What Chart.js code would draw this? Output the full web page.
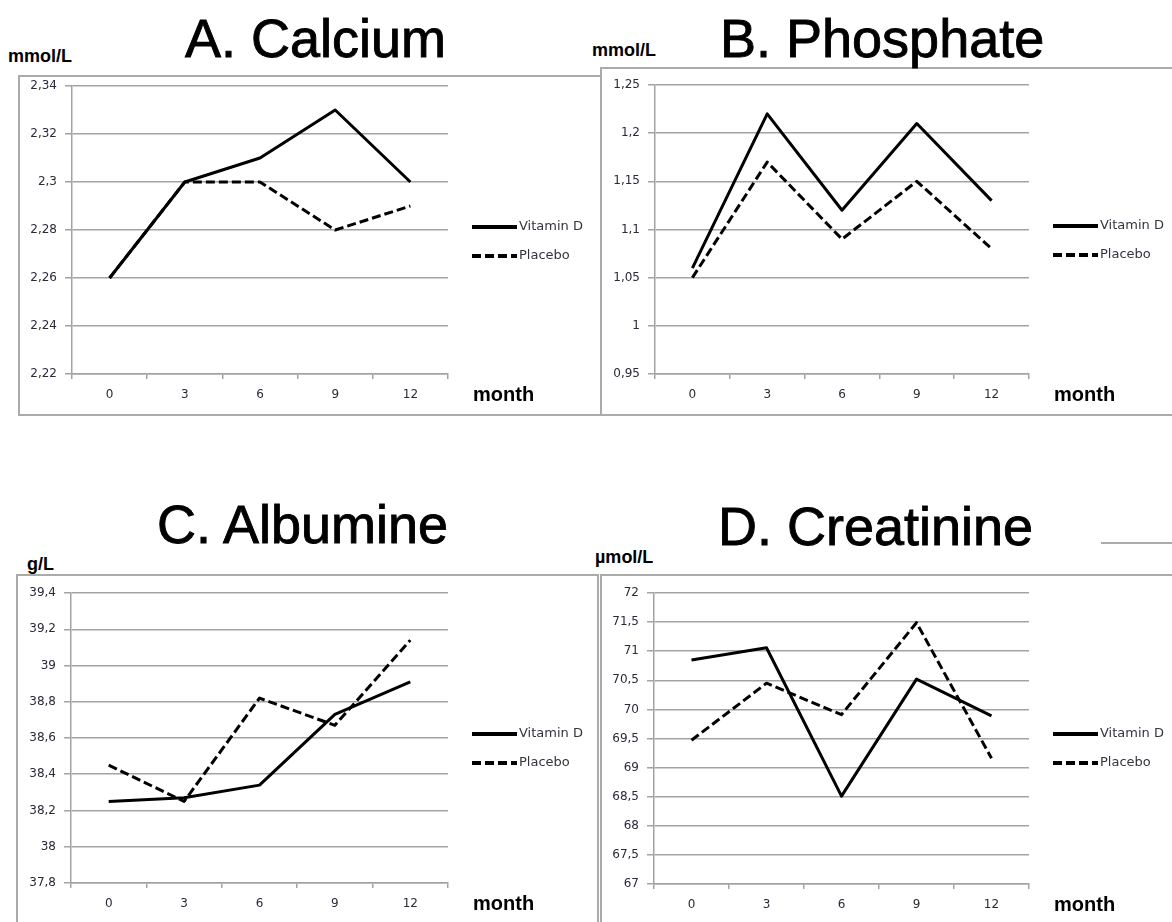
<!DOCTYPE html>
<html>
<head>
<meta charset="utf-8">
<script src="https://cdn.jsdelivr.net/npm/chart.js@4.4.1/dist/chart.umd.min.js"></script>
<style>
  body { margin: 0; width: 1172px; height: 922px; background: #fff; position: relative; overflow: hidden;
         font-family: "Liberation Sans", Arial, sans-serif; }
  .box { position: absolute; border: 2px solid #ababab; box-sizing: border-box; }
  .rule { position: absolute; border-top: 2px solid #ababab; }
  .t { position: absolute; white-space: nowrap; line-height: 1; color: #000; }
  .title { font-size: 54px; -webkit-text-stroke: 0.9px #000; }
  .unit { font-size: 18px; font-weight: bold; }
  canvas { position: absolute; }
</style>
</head>
<body>
<div class="box" style="left:18px;top:75px;width:584px;height:341px"></div>
<div class="box" style="left:600px;top:67px;width:620px;height:349px"></div>
<div class="box" style="left:16px;top:574px;width:583px;height:400px"></div>
<div class="box" style="left:600px;top:574px;width:620px;height:400px"></div>
<div class="rule" style="left:1101px;top:542px;width:71px"></div>

<div class="t title" style="left:185px;top:11px">A. Calcium</div>
<div class="t title" style="left:720px;top:11px">B. Phosphate</div>
<div class="t title" style="left:157px;top:497px">C. Albumine</div>
<div class="t title" style="left:718px;top:499px">D. Creatinine</div>
<div class="t unit" style="left:8px;top:47px">mmol/L</div>
<div class="t unit" style="left:592px;top:41px">mmol/L</div>
<div class="t unit" style="left:27px;top:555px">g/L</div>
<div class="t unit" style="left:595px;top:548px">µmol/L</div>

<canvas id="calcium"></canvas>
<canvas id="phosphate"></canvas>
<canvas id="albumine"></canvas>
<canvas id="creatinine"></canvas>

<script>
// months on the x axis
const months = ["0", "3", "6", "9", "12"];
const seriesNames = ["Vitamin D", "Placebo"];

// A. Calcium (mmol/L)
const calciumVitD = [2.26, 2.30, 2.31, 2.33, 2.30];
const calciumPlacebo = [2.26, 2.30, 2.30, 2.28, 2.29];
const calciumAxis = [2.22, 2.34, 0.02]; // min, max, step

// B. Phosphate (mmol/L)
const phosphateVitD = [1.06, 1.22, 1.12, 1.21, 1.13];
const phosphatePlacebo = [1.05, 1.17, 1.09, 1.15, 1.08];
const phosphateAxis = [0.95, 1.25, 0.05];

// C. Albumine (g/L)
const albumineVitD = [38.25, 38.27, 38.34, 38.73, 38.91];
const albuminePlacebo = [38.45, 38.25, 38.82, 38.67, 39.14];
const albumineAxis = [37.8, 39.4, 0.2];

// D. Creatinine (µmol/L)
const creatinineVitD = [70.85, 71.06, 68.51, 70.52, 69.89];
const creatininePlacebo = [69.47, 70.45, 69.91, 71.49, 69.16];
const creatinineAxis = [67, 72, 0.5];

const gridColor = "#a3a3a3";
const tickFont = { family: "DejaVu Sans", size: 12 };
const tickColor = "#2a2a38";

// fixed side pieces of each panel
const LEFT = 60, TOP = 20, RIGHT = 150, BOTTOM = 45;

// legend + "month" label drawn to the right of the plot, Excel style
const sideLegend = {
  id: "sideLegend",
  afterDraw(chart) {
    const { ctx, chartArea } = chart;
    ctx.save();
    chart.data.datasets.forEach((ds, i) => {
      const x = chartArea.right + 24;
      const y = chartArea.top + 141 + i * 29;
      ctx.beginPath();
      ctx.setLineDash(ds.borderDash || []);
      ctx.lineWidth = 4;
      ctx.strokeStyle = "#000";
      ctx.moveTo(x, y);
      ctx.lineTo(x + 45, y);
      ctx.stroke();
      ctx.setLineDash([]);
      ctx.fillStyle = "#34343f";
      ctx.font = '13px "DejaVu Sans"';
      ctx.textBaseline = "middle";
      ctx.fillText(ds.label, x + 47, y);
    });
    ctx.fillStyle = "#000";
    ctx.font = 'bold 20px "Liberation Sans"';
    ctx.textBaseline = "alphabetic";
    ctx.fillText("month", chartArea.right + 25, chartArea.bottom + 27);
    ctx.restore();
  },
};

function fmt(v) {
  return String(Math.round(v * 1000) / 1000).replace(".", ",");
}

function drawPanel(id, area, vitD, placebo, axis) {
  const canvas = document.getElementById(id);
  canvas.width = area.r - area.l + LEFT + RIGHT;
  canvas.height = area.b - area.t + TOP + BOTTOM;
  canvas.style.left = area.l - LEFT + "px";
  canvas.style.top = area.t - TOP + "px";

  return new Chart(canvas.getContext("2d"), {
    type: "line",
    data: {
      labels: months,
      datasets: [
        { label: seriesNames[0], data: vitD, borderColor: "#000", borderWidth: 3,
          pointRadius: 0, tension: 0, borderJoinStyle: "round" },
        { label: seriesNames[1], data: placebo, borderColor: "#000", borderWidth: 3,
          borderDash: [9, 4], pointRadius: 0, tension: 0, borderJoinStyle: "round" },
      ],
    },
    options: {
      responsive: false,
      animation: false,
      layout: { padding: { left: 0, top: TOP, right: RIGHT, bottom: 0 } },
      plugins: { legend: { display: false }, tooltip: { enabled: false } },
      scales: {
        x: {
          offset: true,
          grid: { offset: true, drawOnChartArea: false, tickLength: 5, color: gridColor, lineWidth: 1.5 },
          border: { display: true, color: gridColor, width: 1.5 },
          ticks: { font: tickFont, color: tickColor, padding: 9, maxRotation: 0 },
          afterFit: (s) => { s.height = BOTTOM; },
        },
        y: {
          min: axis[0],
          max: axis[1],
          grid: { color: gridColor, lineWidth: 1.5, tickLength: 7 },
          border: { display: true, color: gridColor, width: 1.5 },
          ticks: { stepSize: axis[2], font: tickFont, color: tickColor, padding: 8, callback: fmt },
          afterFit: (s) => { s.width = LEFT; },
        },
      },
    },
    plugins: [sideLegend],
  });
}

drawPanel("calcium", { l: 72, t: 86, r: 448, b: 374 }, calciumVitD, calciumPlacebo, calciumAxis);
drawPanel("phosphate", { l: 655, t: 85, r: 1029, b: 374 }, phosphateVitD, phosphatePlacebo, phosphateAxis);
drawPanel("albumine", { l: 71, t: 593, r: 448, b: 883 }, albumineVitD, albuminePlacebo, albumineAxis);
drawPanel("creatinine", { l: 654, t: 593, r: 1029, b: 884 }, creatinineVitD, creatininePlacebo, creatinineAxis);
</script>
</body>
</html>
